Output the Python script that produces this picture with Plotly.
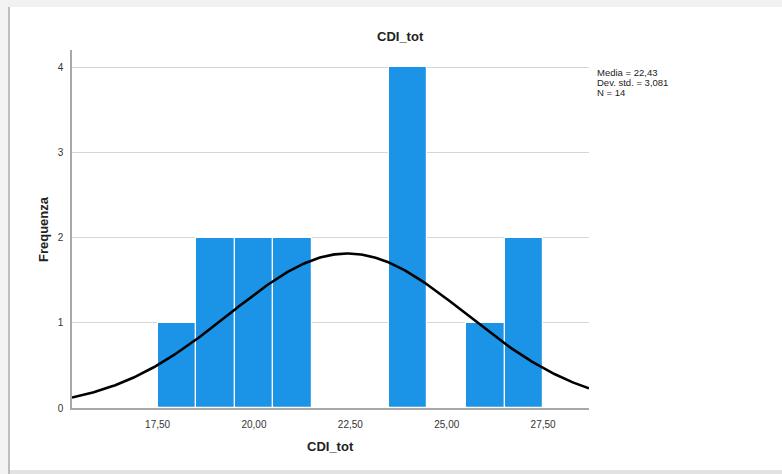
import numpy as np
import plotly.graph_objects as go

# Histogram of CDI_tot (bin width 1)
bin_left = [17.5, 18.5, 19.5, 20.5, 23.5, 25.5, 26.5]
counts = [1, 2, 2, 2, 4, 1, 2]
bin_width = 1.0

# Summary statistics
mean_val = 22.43
std_val = 3.081
n_val = 14
stats_lines = ["Media = 22,43", "Dev. std. = 3,081", "N = 14"]

x_ticks = [17.5, 20.0, 22.5, 25.0, 27.5]
x_tick_text = ["17,50", "20,00", "22,50", "25,00", "27,50"]
y_ticks = [0, 1, 2, 3, 4]

W, H = 782, 474
L, R, T, B = 72, 589, 50, 408  # plot area in pixels
X_RANGE = [15.28, 28.69]
Y_RANGE = [0, 4.2]

FONT = "Liberation Sans, Arial, sans-serif"


def px_x(p):
    return (p - L) / (R - L)


def px_y(p):
    return (B - p) / (B - T)


fig = go.Figure()

fig.add_trace(go.Bar(
    x=[b + bin_width / 2 for b in bin_left],
    y=counts,
    width=bin_width,
    marker=dict(color="#1b93e6", line=dict(color="white", width=1.2)),
    hoverinfo="skip",
))

# Normal density scaled to the counts
xs = np.linspace(X_RANGE[0], X_RANGE[1], 300)
ys = n_val * bin_width / (std_val * np.sqrt(2 * np.pi)) * np.exp(-0.5 * ((xs - mean_val) / std_val) ** 2)
fig.add_trace(go.Scatter(x=xs, y=ys, mode="lines",
                         line=dict(color="black", width=2.6), hoverinfo="skip"))

annotations = [
    dict(text="<b>CDI_tot</b>", x=px_x(400), y=px_y(37), xref="paper", yref="paper",
         xanchor="center", yanchor="middle",
         showarrow=False, font=dict(size=13, color="#222", family=FONT)),
    dict(text="<b>CDI_tot</b>", x=0.5, y=px_y(446), xref="paper", yref="paper",
         xanchor="center", yanchor="middle",
         showarrow=False, font=dict(size=13, color="#222", family=FONT)),
    dict(text="<b>Frequenza</b>", x=px_x(43), y=0.5, xref="paper", yref="paper",
         xanchor="center", yanchor="middle",
         textangle=-90, showarrow=False, font=dict(size=13, color="#222", family=FONT)),
]
for i, line in enumerate(stats_lines):
    annotations.append(dict(text=line, x=px_x(595), y=px_y(72 + i * 10.5),
                            xref="paper", yref="paper", xanchor="left", yanchor="middle",
                            showarrow=False, font=dict(size=9.5, color="#222", family=FONT)))

shapes = [
    # window frame around the chart
    dict(type="rect", xref="paper", yref="paper", x0=px_x(0), x1=px_x(W), y0=px_y(0), y1=px_y(7),
         fillcolor="#f1f1f1", line=dict(width=0), layer="below"),
    dict(type="rect", xref="paper", yref="paper", x0=px_x(0), x1=px_x(8), y0=px_y(0), y1=px_y(H),
         fillcolor="#f3f3f3", line=dict(width=0), layer="below"),
    dict(type="rect", xref="paper", yref="paper", x0=px_x(8), x1=px_x(10), y0=px_y(7), y1=px_y(H),
         fillcolor="#bdbdbd", line=dict(width=0), layer="below"),
    dict(type="rect", xref="paper", yref="paper", x0=px_x(10), x1=px_x(W), y0=px_y(470), y1=px_y(H),
         fillcolor="#e2e2e2", line=dict(width=0), layer="below"),
]

fig.update_layout(
    width=W, height=H,
    margin=dict(l=L, r=W - R, t=T, b=H - B, pad=0),
    paper_bgcolor="white", plot_bgcolor="white",
    showlegend=False, bargap=0,
    font=dict(family=FONT, size=10, color="#333"),
    annotations=annotations, shapes=shapes,
    xaxis=dict(range=X_RANGE, tickvals=x_ticks, ticktext=x_tick_text,
               showgrid=False, zeroline=False, showline=True, linecolor="#a8a8a8",
               linewidth=1.5, ticks="", ticklabelstandoff=6,
               tickfont=dict(size=10, color="#333")),
    yaxis=dict(range=Y_RANGE, tickvals=y_ticks, showgrid=True, gridcolor="#d6d6d6",
               gridwidth=1, zeroline=False, showline=True, linecolor="#a8a8a8",
               linewidth=1.5, ticks="", ticklabelstandoff=5,
               tickfont=dict(size=10, color="#333")),
)

fig.write_html("out.html")
